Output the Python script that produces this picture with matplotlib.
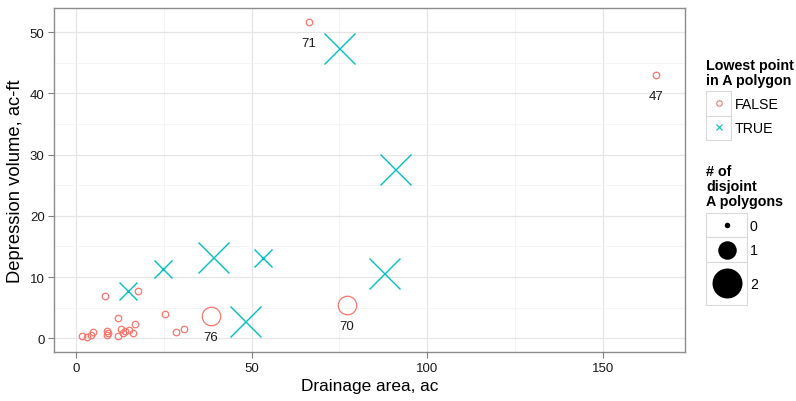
import matplotlib
matplotlib.use("Agg")
import matplotlib.pyplot as plt
from matplotlib.patches import Rectangle
from matplotlib.ticker import MultipleLocator

plt.rcParams['font.family'] = ['Liberation Sans', 'DejaVu Sans']

# ---- data ----
false_x = [1.62, 3.14, 4.10, 4.85, 8.18, 8.84, 8.95, 8.84, 11.97, 11.97, 12.83, 13.23,
           13.97, 14.94, 16.08, 16.65, 17.59, 25.37, 28.51, 30.70, 66.33, 165.25, 77.17, 38.40]
false_y = [0.38, 0.16, 0.54, 0.98, 6.86, 1.19, 0.87, 0.59, 3.27, 0.42, 1.52, 0.87,
           1.24, 1.36, 0.82, 2.39, 7.78, 4.02, 0.98, 1.52, 51.68, 43.02, 5.44, 3.64]
false_n = [0, 0, 0, 0, 0, 0, 0, 0, 0, 0, 0, 0,
           0, 0, 0, 0, 0, 0, 0, 0, 0, 0, 1, 1]

true_x = [74.89, 90.85, 87.71, 38.97, 48.09, 53.22, 24.71, 14.74]
true_y = [47.43, 27.66, 10.67, 13.28, 2.83, 13.12, 11.32, 7.73]
true_n = [2, 2, 2, 2, 2, 1, 1, 1]

label_x = [66.33, 165.25, 77.17, 38.40]
label_y = [51.68, 43.02, 5.44, 3.64]
label_txt = ["71", "47", "70", "76"]

x_ticks = [0, 50, 100, 150]
y_ticks = [0, 10, 20, 30, 40, 50]
legend1_title = ["Lowest point", "in A polygon"]
legend1_labels = ["FALSE", "TRUE"]
legend2_title = ["# of", "disjoint", "A polygons"]
legend2_labels = ["0", "1", "2"]

# ---- style ----
C_FALSE = "#F8766D"
C_TRUE = "#00BFC4"
SIZE_PX = {0: 6.5, 1: 18.5, 2: 31.0}
DPI = 100
W, H = 796, 402


def px2pt(px):
    return px * 72.0 / DPI


fig = plt.figure(figsize=(W / DPI, H / DPI), dpi=DPI)
L, R, T, B = 54.3, 684.7, 9.3, 353.3
ax = fig.add_axes([L / W, (H - B) / H, (R - L) / W, (B - T) / H])

ax.set_xlim(-6.27, 173.4)
ax.set_ylim(-2.29, 53.92)
ax.xaxis.set_minor_locator(MultipleLocator(25))
ax.yaxis.set_minor_locator(MultipleLocator(5))
ax.set_xticks(x_ticks)
ax.set_yticks(y_ticks)
ax.grid(which='major', color='#E5E5E5', lw=0.9)
ax.grid(which='minor', color='#F4F4F4', lw=0.7)
ax.set_axisbelow(True)
for s in ax.spines.values():
    s.set_color('#8C8C8C')
    s.set_linewidth(1.0)
ax.tick_params(which='major', length=4, color='#7F7F7F', labelsize=9.5, labelcolor='#1A1A1A', pad=3)
ax.tick_params(which='minor', length=0)

for x, y, n in zip(false_x, false_y, false_n):
    ax.plot([x], [y], marker='o', ms=px2pt(SIZE_PX[n]), mfc='none', mec=C_FALSE, mew=0.9, ls='none')
for x, y, n in zip(true_x, true_y, true_n):
    ax.plot([x], [y], marker='x', ms=px2pt(SIZE_PX[n]), mec=C_TRUE, mew=1.0, ls='none')

for x, y, t in zip(label_x, label_y, label_txt):
    ax.annotate(t, (x, y), xytext=(0, -15.2), textcoords='offset points', ha='center', va='center',
                fontsize=9.5, color='#1A1A1A')

ax.set_xlabel("Drainage area, ac", fontsize=12.4, labelpad=3)
ax.set_ylabel("Depression volume, ac-ft", fontsize=13.2, labelpad=4)

# ---- legends (overlay in pixel coordinates) ----
lg = fig.add_axes([0, 0, 1, 1])
lg.set_xlim(0, W)
lg.set_ylim(H, 0)
lg.axis('off')
lg.patch.set_alpha(0)

for i, line in enumerate(legend1_title):
    lg.text(706, 70 + 15 * i, line, fontsize=10.3, fontweight='bold', va='baseline', ha='left')
keys1 = [(92.3, 116.7), (116.7, 141)]
for (y0, y1), lab, (mk, col) in zip(keys1, legend1_labels, [('o', C_FALSE), ('x', C_TRUE)]):
    lg.add_patch(Rectangle((706, y0), 25, y1 - y0, fc='#FFFFFF', ec='#D9D9D9', lw=0.8))
    if mk == 'o':
        lg.plot([718.5], [(y0 + y1) / 2 - 1], marker='o', ms=px2pt(5.5), mfc='none', mec=col, mew=0.8)
    else:
        lg.plot([718.5], [(y0 + y1) / 2 - 1], marker='x', ms=px2pt(6), mec=col, mew=0.8)
    lg.text(735, (y0 + y1) / 2 + 0.5, lab, fontsize=10.2, va='center', ha='left')

for i, line in enumerate(legend2_title):
    lg.text(706, 176 + 15 * i, line, fontsize=10.3, fontweight='bold', va='baseline', ha='left')
keys2 = [(214.3, 238.3), (238.3, 263.3), (263.3, 305.5)]
dot_px = [5.5, 18.5, 30]
for (y0, y1), lab, d in zip(keys2, legend2_labels, dot_px):
    lg.add_patch(Rectangle((706, y0), 40.7, y1 - y0, fc='#FFFFFF', ec='#D9D9D9', lw=0.8))
    lg.plot([726.5], [(y0 + y1) / 2], marker='o', ms=px2pt(d), mfc='black', mec='black', mew=0)
    lg.text(750, (y0 + y1) / 2 + 0.5, lab, fontsize=10.2, va='center', ha='left')

fig.savefig("out.png", dpi=DPI)
